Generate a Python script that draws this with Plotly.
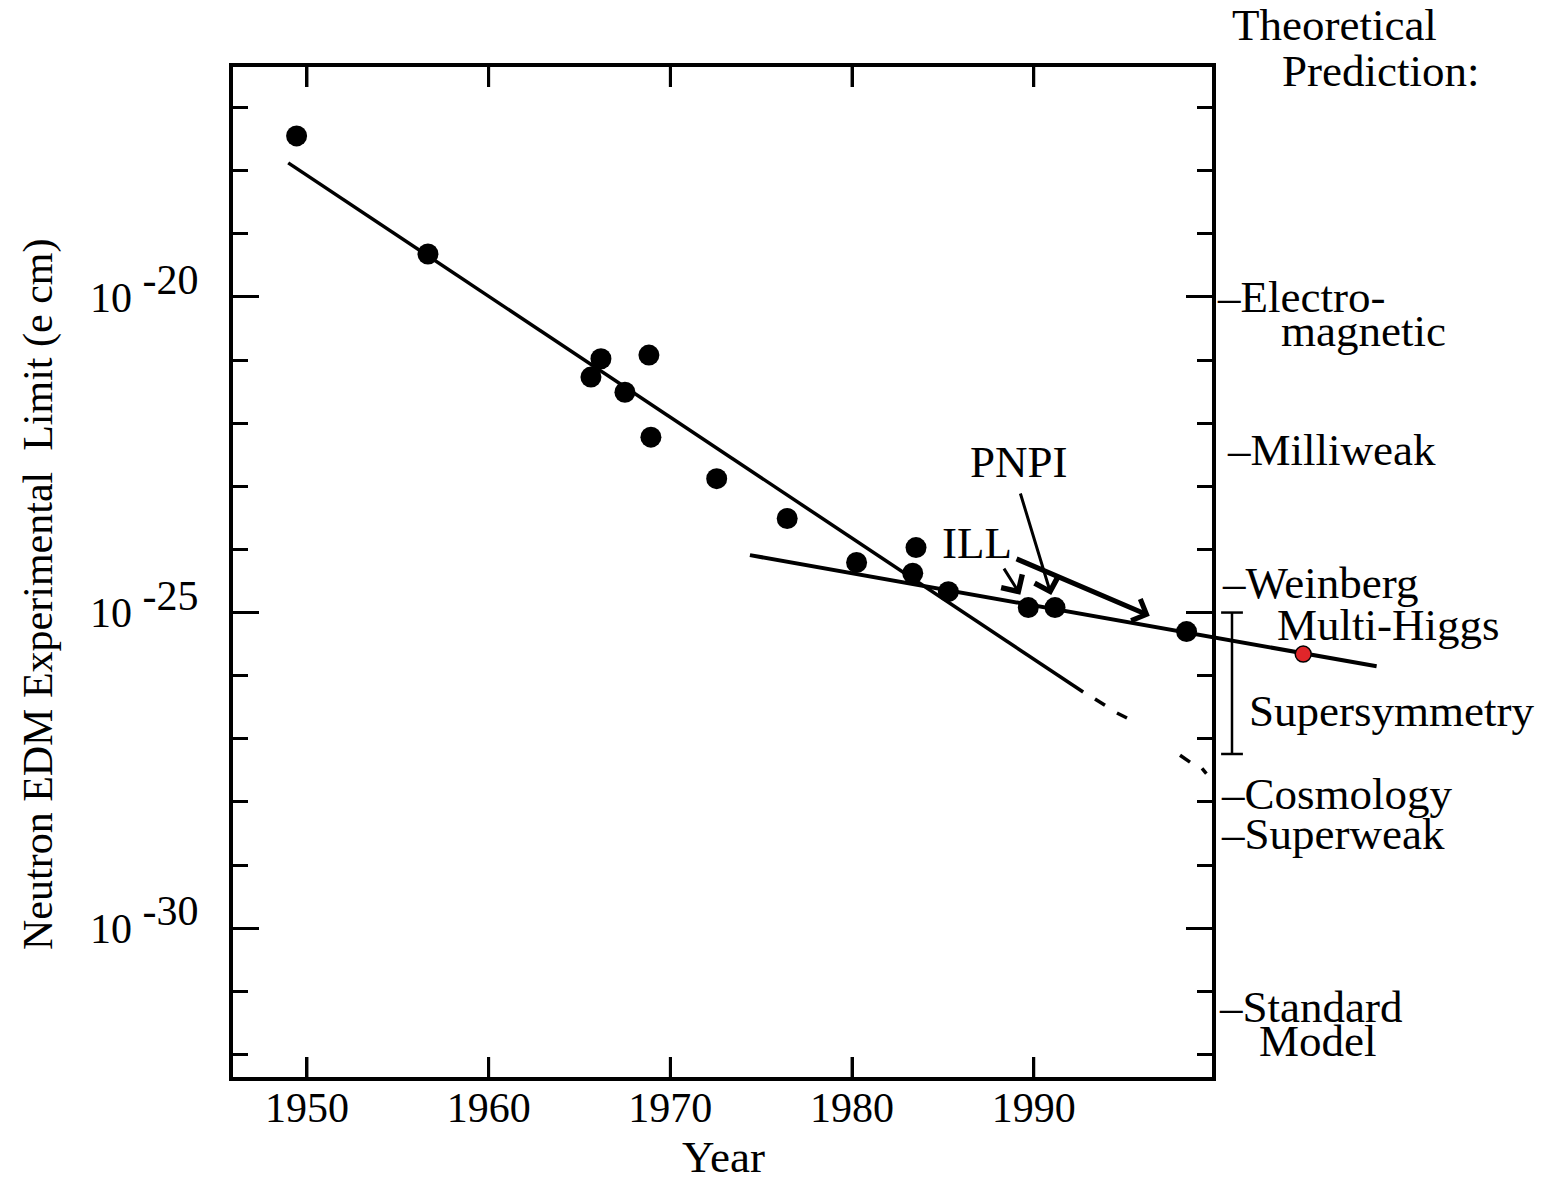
import math
import plotly.graph_objects as go

# ---------------- data ----------------
years = [1949.43, 1956.66, 1965.63, 1966.18, 1967.50, 1968.82, 1968.93, 1972.55,
         1976.43, 1980.25, 1983.34, 1983.52, 1985.30, 1989.70, 1991.17, 1998.41]
edm_limits = [3.55e-18, 4.79e-20, 5.37e-22, 1.05e-21, 3.09e-22, 1.20e-21, 6.0e-23, 1.32e-23,
              3.09e-24, 6.2e-25, 4.2e-25, 1.07e-24, 2.14e-25, 1.2e-25, 1.2e-25, 5.0e-26]

future_year = [2004.83]
future_limit = [2.2e-26]

steep_years = [1948.97, 1992.72]
steep_vals = [1.33e-18, 5.5e-27]
steep_dash_years = [1993.37, 1993.92, None, 1994.58, 1995.13, None,
                    1998.05, 1998.60, None, 1999.26, 1999.50]
steep_dash_vals = [4.27e-27, 3.39e-27, None, 2.57e-27, 2.14e-27, None,
                   5.5e-28, 4.27e-28, None, 3.39e-28, 2.82e-28]

flat_years = [1974.38, 2008.87]
flat_vals = [8.13e-25, 1.41e-26]

x_tick_vals = [1950, 1960, 1970, 1980, 1990]
x_tick_text = ["1950", "1960", "1970", "1980", "1990"]
y_tick_vals = [1e-20, 1e-25, 1e-30]
y_tick_exps = ["-20", "-25", "-30"]
y_minor_vals = [1e-17, 1e-18, 1e-19, 1e-21, 1e-22, 1e-23, 1e-24, 1e-26,
                1e-27, 1e-28, 1e-29, 1e-31, 1e-32]

pred_names = ["\u2013Electro-", "\u2013Milliweak", "\u2013Weinberg", "Multi-Higgs",
              "Supersymmetry", "\u2013Cosmology", "\u2013Superweak", "\u2013Standard"]
pred_levels = [1e-20, 3.7e-23, 2.9e-25, 6.3e-26, 2.8e-27, 1.35e-28, 3.1e-29, 5.75e-32]
pred_second = {"\u2013Electro-": "magnetic", "\u2013Standard": "Model"}
susy_range = [1e-25, 5.75e-28]

# ---------------- layout geometry ----------------
W, H = 1543, 1182
L, R, T, B = 233, 1212, 67, 1077
R2 = 1400
x_range = [1945.93, 1999.81]
x2_range = [1945.93, x_range[0] + (x_range[1] - x_range[0]) * (R2 - L) / (R - L)]
y_range = [-32.357, -16.358]
XTICK_LEN = 20

FONT = "Liberation Serif"
tick_font = dict(family=FONT, size=42, color="black")
label_font = dict(family=FONT, size=45, color="black")
title_font = dict(family=FONT, size=42, color="black")

fig = go.Figure()

# lines (wide invisible axes so they can run past the frame)
fig.add_trace(go.Scatter(x=steep_years, y=steep_vals, mode="lines",
                         line=dict(color="black", width=3.5),
                         xaxis="x2", yaxis="y2", hoverinfo="skip"))
fig.add_trace(go.Scatter(x=steep_dash_years, y=steep_dash_vals, mode="lines",
                         line=dict(color="black", width=3.5),
                         xaxis="x2", yaxis="y2", hoverinfo="skip", connectgaps=False))
fig.add_trace(go.Scatter(x=flat_years, y=flat_vals, mode="lines",
                         line=dict(color="black", width=4),
                         xaxis="x2", yaxis="y2", hoverinfo="skip"))

# measured points
fig.add_trace(go.Scatter(x=years, y=edm_limits, mode="markers",
                         marker=dict(color="black", size=21, symbol="circle"),
                         xaxis="x", yaxis="y", cliponaxis=False))

# future point
fig.add_trace(go.Scatter(x=future_year, y=future_limit, mode="markers",
                         marker=dict(color="#e0262a", size=16,
                                     line=dict(color="black", width=1.5)),
                         xaxis="x2", yaxis="y2", cliponaxis=False))

# supersymmetry bracket
bx = x2_range[0] + (1232 - L) * (x2_range[1] - x2_range[0]) / (R2 - L)
cap = 0.6
fig.add_trace(go.Scatter(
    x=[bx, bx, None, bx - cap, bx + cap, None, bx - cap, bx + cap],
    y=[susy_range[0], susy_range[1], None, susy_range[0], susy_range[0], None,
       susy_range[1], susy_range[1]],
    mode="lines", line=dict(color="black", width=2.5),
    xaxis="x2", yaxis="y2", hoverinfo="skip"))

y_tick_text = ['10 <sup><span style="font-size:42px">%s</span></sup>' % e
               for e in y_tick_exps]

fig.update_layout(
    width=W, height=H,
    margin=dict(l=0, r=0, t=0, b=0),
    paper_bgcolor="white", plot_bgcolor="rgba(0,0,0,0)",
    showlegend=False,
    font=tick_font,
    xaxis=dict(domain=[L / W, R / W], range=x_range, anchor="y",
               tickmode="array", tickvals=x_tick_vals, ticktext=x_tick_text,
               ticks="inside", ticklen=XTICK_LEN, tickwidth=3, tickcolor="black",
               showline=True, linewidth=4, linecolor="black", mirror="ticks",
               showgrid=False, zeroline=False, tickfont=tick_font,
               ticklabelstandoff=-9),
    yaxis=dict(domain=[1 - B / H, 1 - T / H], type="log", range=y_range, anchor="x",
               tickmode="array", tickvals=y_tick_vals, ticktext=y_tick_text,
               ticks="inside", ticklen=26, tickwidth=3, tickcolor="black",
               minor=dict(tickmode="array", tickvals=y_minor_vals, ticks="inside",
                          ticklen=15, tickwidth=3, tickcolor="black", showgrid=False),
               showline=True, linewidth=4, linecolor="black", mirror="ticks",
               showgrid=False, zeroline=False, tickfont=tick_font,
               ticklabelstandoff=22),
    xaxis2=dict(domain=[L / W, R2 / W], range=x2_range, anchor="y2", visible=False,
                showgrid=False, zeroline=False),
    yaxis2=dict(domain=[1 - B / H, 1 - T / H], type="log", range=y_range, anchor="x2",
                visible=False, showgrid=False, zeroline=False),
)

# year tick marks on bottom and top edges of the frame (at the axis tick values)
shapes = []
for tv in x_tick_vals:
    shapes.append(dict(type="line", xref="x", yref="paper", x0=tv, x1=tv,
                       y0=1 - B / H, y1=1 - (B - XTICK_LEN) / H,
                       line=dict(color="black", width=3)))
    shapes.append(dict(type="line", xref="x", yref="paper", x0=tv, x1=tv,
                       y0=1 - T / H, y1=1 - (T + XTICK_LEN) / H,
                       line=dict(color="black", width=3)))
fig.update_layout(shapes=shapes)

ann = []
# axis titles
ann.append(dict(text="Year", x=723 / W, y=1 - 1157 / H, xref="paper", yref="paper",
                showarrow=False, font=label_font, xanchor="center", yanchor="middle"))
ann.append(dict(text="Neutron EDM Experimental  Limit (e cm)", x=38 / W, y=1 - 595 / H,
                xref="paper", yref="paper", showarrow=False, font=title_font, textangle=-90,
                xanchor="center", yanchor="middle"))
ann.append(dict(text="Theoretical", x=1230 / W, y=1 - 25 / H, xref="paper", yref="paper",
                showarrow=False, font=label_font, xanchor="left", yanchor="middle"))
ann.append(dict(text="Prediction:", x=1280 / W, y=1 - 71 / H, xref="paper", yref="paper",
                showarrow=False, font=label_font, xanchor="left", yanchor="middle"))

# theoretical predictions
pred_x = [1215, 1225, 1220, 1275, 1247, 1219, 1219, 1217]
for name, lvl, px in zip(pred_names, pred_levels, pred_x):
    ann.append(dict(text=name, x=px / W, y=math.log10(lvl), xref="paper", yref="y",
                    showarrow=False, font=label_font, xanchor="left", yanchor="middle"))
    if name in pred_second:
        sx = 1279 if name == "\u2013Electro-" else 1257
        ann.append(dict(text=pred_second[name], x=sx / W, y=math.log10(lvl),
                        xref="paper", yref="y", showarrow=False, font=label_font,
                        xanchor="left", yanchor="middle", yshift=-34))

# experiment labels and arrows
ann.append(dict(text="PNPI", x=1989.21, y=-22.62, xref="x", yref="y", showarrow=False,
                font=label_font, xanchor="center", yanchor="middle"))
ann.append(dict(text="ILL", x=1986.90, y=-23.90, xref="x", yref="y", showarrow=False,
                font=label_font, xanchor="center", yanchor="middle"))
arrows = [
    (years[15], edm_limits[15], 1988.97, -24.14, 5, 0.9, 40),
    (years[14], edm_limits[14], 1989.24, -23.09, 3, 1.6, 13),
    (years[13], edm_limits[13], 1988.31, -24.28, 3, 1.6, 15),
]
for hx, hv, tx, ty, w, s, so in arrows:
    ann.append(dict(text="", x=hx, y=math.log10(hv), xref="x", yref="y",
                    ax=tx, ay=ty, axref="x", ayref="y", showarrow=True,
                    arrowhead=4, arrowsize=s, arrowwidth=w, arrowcolor="black",
                    standoff=so))

fig.update_layout(annotations=ann)

fig.write_html("out.html")
